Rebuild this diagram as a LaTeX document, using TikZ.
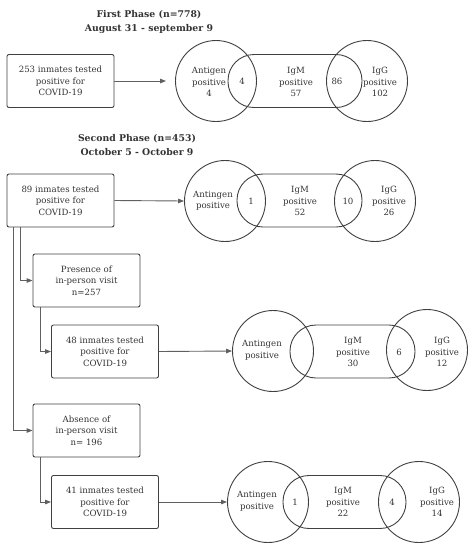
\documentclass[tikz,border=0pt]{standalone}
\usepackage{fontspec}
\setmainfont{DejaVu Serif}
\usetikzlibrary{arrows.meta}
\definecolor{linec}{HTML}{404040}
\definecolor{conc}{HTML}{606060}
\definecolor{txtc}{HTML}{333333}
\begin{document}
\begin{tikzpicture}[x=1pt,y=-1pt,
  every node/.style={text=txtc},
  txt/.style={align=center,inner sep=0pt,font=\fontsize{8.6}{11.5}\selectfont},
  ttl/.style={align=center,inner sep=0pt,font=\fontsize{9.3}{14}\selectfont\bfseries},
  box/.style={draw=linec,line width=0.9pt,rounded corners=2pt,minimum width=107pt,minimum height=53pt,txt},
  vcirc/.style={draw=linec,line width=0.9pt,circle,minimum size=81pt,inner sep=0pt},
  stad/.style={draw=linec,line width=0.9pt,rounded corners=26pt,minimum height=53pt,inner sep=0pt},
  con/.style={draw=conc,line width=0.9pt},
  arr/.style={con,-{Triangle[length=6pt,width=4.5pt]}}
]
\useasboundingbox (0,0) rectangle (470,550);
% titles
\node[ttl] (t1) at (149,21.5) {First Phase (n=778)\\August 31 - september 9};
\node[ttl] (t2) at (137,145) {Second Phase (n=453)\\October 5 - October 9};
% boxes
\node[box] (b1) at (60.5,81) {253 inmates tested\\positive for\\COVID-19};
\node[box] (b2) at (60.5,200.5) {89 inmates tested\\positive for\\COVID-19};
\node[box] (pr) at (86.5,280.5) {Presence of\\in-person visit\\n=257};
\node[box] (b3) at (105,351.5) {48 inmates tested\\positive for\\COVID-19};
\node[box] (ab) at (86.5,430.5) {Absence of\\in-person visit\\n= 196};
\node[box] (b4) at (105,502) {41 inmates tested\\positive for\\COVID-19};
% set 1
\node[vcirc] (a1) at (216,81) {};
\node[stad,minimum width=134pt] (m1) at (295,81) {};
\node[vcirc] (g1) at (367,81) {};
\node[txt] (a1t) at (209,82) {Antigen\\positive\\4};
\node[txt] (am1) at (242,81) {4};
\node[txt] (m1t) at (296,82) {IgM\\positive\\57};
\node[txt] (mg1) at (337,81) {86};
\node[txt] (g1t) at (380,82) {IgG\\positive\\102};
% set 2
\node[vcirc] (a2) at (225,201) {};
\node[stad,minimum width=125pt] (m2) at (299.5,200.5) {};
\node[vcirc] (g2) at (375,201) {};
\node[txt] (a2t) at (213,200.5) {Antingen\\positive};
\node[txt] (am2) at (251,201) {1};
\node[txt] (m2t) at (300,201) {IgM\\positive\\52};
\node[txt] (mg2) at (348,201) {10};
\node[txt] (g2t) at (389,201) {IgG\\positive\\26};
% set 3
\node[vcirc] (a3) at (273,351) {};
\node[stad,minimum width=125pt] (m3) at (352.5,351.5) {};
\node[vcirc] (g3) at (427,350) {};
\node[txt] (a3t) at (262,350) {Antingen\\positive};
\node[txt] (m3t) at (353,352) {IgM\\positive\\30};
\node[txt] (mg3) at (399,352) {6};
\node[txt] (g3t) at (442,352) {IgG\\positive\\12};
% set 4
\node[vcirc] (a4) at (268,502) {};
\node[stad,minimum width=123pt] (m4) at (344.5,502) {};
\node[vcirc] (g4) at (419,502) {};
\node[txt] (a4t) at (257,501) {Antingen\\positive};
\node[txt] (am4) at (295,502) {1};
\node[txt] (m4t) at (343,502) {IgM\\positive\\22};
\node[txt] (mg4) at (392,502) {4};
\node[txt] (g4t) at (437,502) {IgG\\positive\\14};
% connectors
\draw[arr,shorten >=9pt] (b1.east) -- (a1.west);
\draw[arr] (b2.east) -- (a2.west);
\draw[arr] (b3.east) -- (a3.west);
\draw[arr] (b4.east) -- (a4.west);
\draw[arr] ([xshift=14pt]b2.south west) |- (pr.west);
\draw[arr] ([xshift=7pt]b2.south west) |- (ab.west);
\draw[arr] ([xshift=8pt]pr.south west) |- (b3.west);
\draw[arr] ([xshift=8pt]ab.south west) |- (b4.west);
\end{tikzpicture}
\end{document}
